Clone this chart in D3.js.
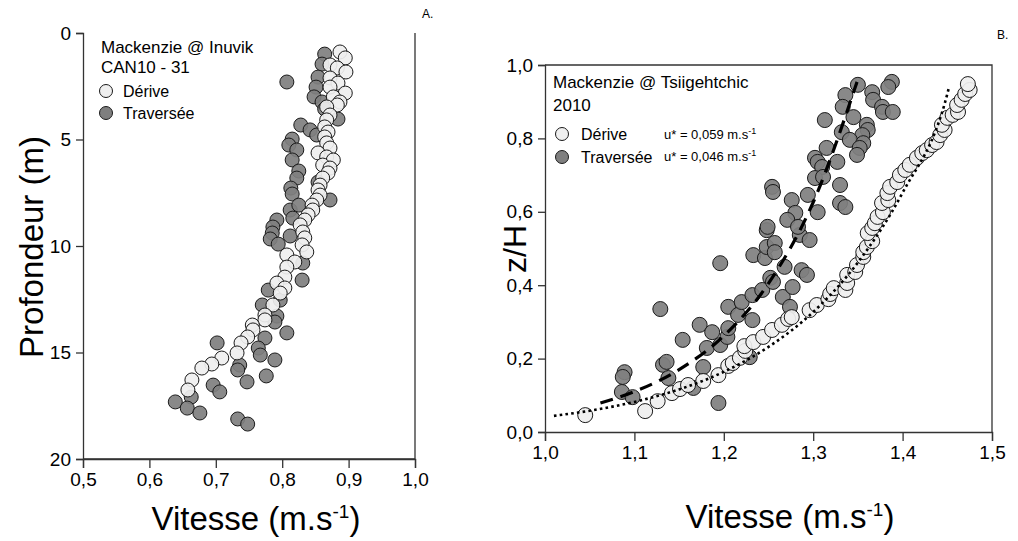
<!DOCTYPE html>
<html>
<head>
<meta charset="utf-8">
<script src="https://cdn.jsdelivr.net/npm/d3@7"></script>
<style>
  body { margin: 0; background: #fff; }
  text { font-family: "Liberation Sans", Arial, sans-serif; fill: #000; }
</style>
</head>
<body>
<svg id="chart" width="1018" height="541"></svg>
<script>
// Panel A : Mackenzie @ Inuvik (vitesse, profondeur)
const inuvikDerive = [
  [0.887,0.89],[0.895,1.17],[0.872,1.50],[0.883,1.64],[0.896,1.83],[0.872,2.11],[0.884,2.35],
  [0.872,2.54],[0.895,2.82],[0.877,3.00],[0.887,3.24],[0.883,3.38],[0.867,3.47],[0.872,3.85],
  [0.867,4.08],[0.864,4.41],[0.869,4.65],[0.864,4.88],[0.867,5.16],[0.872,5.40],[0.854,5.63],
  [0.867,5.82],[0.877,5.96],[0.861,6.20],[0.872,6.34],[0.869,6.57],[0.861,6.81],[0.857,7.14],
  [0.854,7.37],[0.857,7.61],[0.852,7.84],[0.845,8.08],[0.846,8.31],[0.839,8.54],[0.834,8.78],
  [0.827,9.01],[0.831,9.34],[0.834,9.62],[0.830,9.95],[0.837,10.28],[0.807,10.42],[0.819,10.75],
  [0.807,10.99],[0.804,11.46],[0.792,11.74],[0.804,11.97],[0.797,12.21],[0.786,12.77],[0.774,13.24],
  [0.774,13.47],[0.755,13.71],[0.756,13.94],[0.748,14.27],[0.738,14.55],[0.732,15.02],[0.709,15.26],
  [0.694,15.54],[0.679,15.73],[0.664,16.29],[0.658,16.76]
];
const inuvikTraversee = [
  [0.864,0.99],[0.860,1.46],[0.854,2.07],[0.851,2.54],[0.848,3.00],[0.860,3.24],[0.864,3.57],
  [0.884,4.04],[0.807,2.30],[0.828,4.32],[0.842,4.55],[0.852,4.79],[0.815,4.98],[0.810,5.26],
  [0.822,5.49],[0.815,5.96],[0.825,6.48],[0.822,6.81],[0.813,7.28],[0.815,7.56],[0.854,7.00],
  [0.872,7.84],[0.812,8.31],[0.825,8.08],[0.816,8.69],[0.792,8.78],[0.786,9.11],[0.785,9.39],
  [0.782,9.67],[0.794,9.91],[0.812,9.53],[0.831,10.80],[0.830,11.60],[0.779,12.07],[0.797,12.54],
  [0.770,12.77],[0.792,13.29],[0.789,13.57],[0.807,14.08],[0.774,14.32],[0.702,14.55],[0.764,14.79],
  [0.767,15.12],[0.789,15.35],[0.736,15.59],[0.733,15.82],[0.776,16.10],[0.747,16.38],[0.696,16.53],
  [0.706,16.85],[0.663,17.09],[0.639,17.32],[0.657,17.61],[0.676,17.84],[0.733,18.12],[0.748,18.36]
];

// Panel B : Mackenzie @ Tsiigehtchic 2010 (vitesse, z/H)
const tsiiDerive = [
  [1.045,0.046],[1.112,0.057],[1.126,0.084],[1.142,0.106],[1.151,0.117],[1.160,0.128],[1.177,0.139],
  [1.194,0.155],[1.205,0.180],[1.210,0.188],[1.218,0.202],[1.224,0.221],[1.223,0.234],[1.233,0.245],
  [1.244,0.259],[1.254,0.278],[1.265,0.292],[1.272,0.308],[1.276,0.313],[1.296,0.332],[1.304,0.346],
  [1.317,0.362],[1.319,0.376],[1.323,0.392],[1.336,0.387],[1.338,0.406],[1.338,0.428],[1.347,0.436],
  [1.349,0.455],[1.356,0.477],[1.356,0.490],[1.360,0.504],[1.366,0.520],[1.361,0.542],[1.366,0.556],
  [1.369,0.569],[1.372,0.586],[1.378,0.599],[1.377,0.624],[1.384,0.632],[1.383,0.651],[1.386,0.668],
  [1.394,0.681],[1.397,0.700],[1.403,0.714],[1.408,0.728],[1.416,0.747],[1.422,0.760],[1.427,0.768],
  [1.433,0.782],[1.438,0.790],[1.442,0.809],[1.447,0.823],[1.444,0.837],[1.450,0.856],[1.456,0.864],
  [1.462,0.872],[1.461,0.891],[1.466,0.905],[1.470,0.921],[1.475,0.932],[1.473,0.948]
];
const tsiiTraversee = [
  [1.086,0.109],[1.089,0.163],[1.087,0.150],[1.098,0.095],[1.129,0.335],[1.132,0.183],[1.136,0.191],
  [1.138,0.147],[1.154,0.251],[1.166,0.120],[1.173,0.292],[1.177,0.177],[1.181,0.229],[1.187,0.272],
  [1.194,0.079],[1.196,0.237],[1.196,0.460],[1.204,0.259],[1.205,0.283],[1.205,0.341],[1.216,0.319],
  [1.220,0.354],[1.229,0.204],[1.232,0.305],[1.232,0.373],[1.233,0.482],[1.243,0.387],[1.246,0.474],
  [1.248,0.504],[1.248,0.550],[1.252,0.420],[1.255,0.409],[1.257,0.515],[1.257,0.490],[1.266,0.368],
  [1.268,0.450],[1.274,0.341],[1.277,0.395],[1.285,0.537],[1.287,0.441],[1.293,0.428],[1.296,0.523],
  [1.388,0.954],[1.384,0.940],[1.366,0.926],[1.367,0.905],[1.377,0.886],[1.378,0.872],[1.389,0.872],
  [1.350,0.946],[1.336,0.918],[1.333,0.886],[1.345,0.858],[1.313,0.850],[1.360,0.837],[1.361,0.823],
  [1.332,0.817],[1.355,0.809],[1.341,0.796],[1.356,0.787],[1.352,0.774],[1.349,0.755],[1.315,0.774],
  [1.302,0.747],[1.305,0.736],[1.310,0.722],[1.302,0.692],[1.311,0.695],[1.327,0.736],[1.330,0.673],
  [1.254,0.668],[1.255,0.654],[1.276,0.632],[1.294,0.646],[1.330,0.624],[1.336,0.613],[1.305,0.599],
  [1.280,0.597],[1.271,0.578],[1.283,0.559],[1.249,0.559]
];
// profils ajustés
const fitDerive = [
  [1.01,0.044],[1.05,0.058],[1.10,0.082],[1.15,0.116],[1.20,0.164],[1.25,0.232],
  [1.30,0.327],[1.35,0.462],[1.40,0.652],[1.45,0.921],[1.452,0.94]
];
const fitTraversee = [
  [1.062,0.079],[1.10,0.110],[1.15,0.170],[1.20,0.262],[1.25,0.405],[1.30,0.626],[1.349,0.954]
];

const ticksA_x = [0.5, 0.6, 0.7, 0.8, 0.9, 1.0];
const ticksA_y = [0, 5, 10, 15, 20];
const ticksB_x = [1.0, 1.1, 1.2, 1.3, 1.4, 1.5];
const ticksB_y = [0, 0.2, 0.4, 0.6, 0.8, 1.0];

const fr = d3.formatLocale({decimal: ",", thousands: " ", grouping: [3], currency: ["", ""]});
const f1 = fr.format(".1f");

const WHITE = "#efefef", GREY = "#7f7f7f";
const svg = d3.select("#chart");

function frame(g, x, y) {
  const [x0, x1] = x.range(), [y0, y1] = y.range();
  g.append("path")
    .attr("d", `M${x0},${y1}H${x1}V${y0}`)
    .attr("fill", "none").attr("stroke", "#333").attr("stroke-width", 1.3);
}

function styleAxis(ax) {
  ax.select(".domain").attr("stroke", "#333").attr("stroke-width", 1.3);
  ax.selectAll(".tick line").attr("stroke", "#333").attr("stroke-width", 1.3);
  ax.selectAll(".tick text").attr("font-size", 19).attr("font-family", "Liberation Sans, Arial, sans-serif").attr("fill", "#000");
}

function vitesseTitle(g, cx, y) {
  const t = g.append("text").attr("x", cx).attr("y", y).attr("text-anchor", "middle").attr("font-size", 33);
  t.append("tspan").text("Vitesse (m.s");
  t.append("tspan").attr("font-size", 19).attr("dy", -12).text("-1");
  t.append("tspan").attr("dy", 12).text(")");
}

function dots(g, data, x, y, fill, r) {
  g.append("g").selectAll("circle").data(data).join("circle")
    .attr("cx", d => x(d[0])).attr("cy", d => y(d[1])).attr("r", r)
    .attr("fill", fill).attr("fill-opacity", 0.92)
    .attr("stroke", "#1a1a1a").attr("stroke-width", 1);
}

// ---------- Panel A ----------
const xA = d3.scaleLinear().domain([0.5, 1.0]).range([83, 415]);
const yA = d3.scaleLinear().domain([0, 20]).range([33, 459]);
const gA = svg.append("g");

dots(gA, inuvikTraversee, xA, yA, GREY, 7);
dots(gA, inuvikDerive, xA, yA, WHITE, 7);

frame(gA, xA, yA);
const axA_x = gA.append("g").attr("transform", "translate(0,459)")
  .call(d3.axisBottom(xA).tickValues(ticksA_x).tickFormat(f1).tickSizeOuter(0).tickSize(9).tickPadding(5));
styleAxis(axA_x);
const axA_y = gA.append("g").attr("transform", "translate(83,0)")
  .call(d3.axisLeft(yA).tickValues(ticksA_y).tickFormat(d3.format("d")).tickSizeOuter(0).tickSize(7).tickPadding(5));
styleAxis(axA_y);

gA.append("text").attr("transform", "translate(43,247) rotate(-90)")
  .attr("text-anchor", "middle").attr("font-size", 33).text("Profondeur (m)");
vitesseTitle(gA, 256, 530);
gA.append("text").attr("x", 422).attr("y", 18).attr("font-size", 12).text("A.");

// legende A
gA.append("text").attr("x", 101).attr("y", 53).attr("font-size", 17).text("Mackenzie @ Inuvik");
gA.append("text").attr("x", 101).attr("y", 73).attr("font-size", 17).text("CAN10 - 31");
gA.append("circle").attr("cx", 106).attr("cy", 91).attr("r", 6.5).attr("fill", WHITE).attr("stroke", "#1a1a1a");
gA.append("text").attr("x", 123).attr("y", 97).attr("font-size", 16).text("Dérive");
gA.append("circle").attr("cx", 106).attr("cy", 113).attr("r", 6.5).attr("fill", GREY).attr("stroke", "#1a1a1a");
gA.append("text").attr("x", 123).attr("y", 119).attr("font-size", 16).text("Traversée");

// ---------- Panel B ----------
const xB = d3.scaleLinear().domain([1.0, 1.5]).range([545, 992]);
const yB = d3.scaleLinear().domain([0, 1]).range([432, 65]);
const gB = svg.append("g");

dots(gB, tsiiTraversee, xB, yB, GREY, 7.5);
dots(gB, tsiiDerive, xB, yB, WHITE, 7.5);

const line = d3.line().x(d => xB(d[0])).y(d => yB(d[1])).curve(d3.curveMonotoneX);
gB.append("path").attr("d", line(fitTraversee)).attr("fill", "none")
  .attr("stroke", "#000").attr("stroke-width", 3.2).attr("stroke-dasharray", "13,8");
gB.append("path").attr("d", line(fitDerive)).attr("fill", "none")
  .attr("stroke", "#000").attr("stroke-width", 2.6).attr("stroke-dasharray", "2.6,3.2");

frame(gB, xB, yB);
const axB_x = gB.append("g").attr("transform", "translate(0,432)")
  .call(d3.axisBottom(xB).tickValues(ticksB_x).tickFormat(f1).tickSizeOuter(0).tickSize(9).tickPadding(5));
styleAxis(axB_x);
const axB_y = gB.append("g").attr("transform", "translate(545,0)")
  .call(d3.axisLeft(yB).tickValues(ticksB_y).tickFormat(f1).tickSizeOuter(0).tickSize(7).tickPadding(5));
styleAxis(axB_y);

gB.append("text").attr("transform", "translate(526,249) rotate(-90)")
  .attr("text-anchor", "middle").attr("font-size", 32).text("z/H");
vitesseTitle(gB, 790, 528);
gB.append("text").attr("x", 997).attr("y", 39).attr("font-size", 12).text("B.");

// legende B
gB.append("text").attr("x", 553).attr("y", 88).attr("font-size", 17).text("Mackenzie @ Tsiigehtchic");
gB.append("text").attr("x", 553).attr("y", 111).attr("font-size", 17).text("2010");
gB.append("circle").attr("cx", 562).attr("cy", 134).attr("r", 6.5).attr("fill", WHITE).attr("stroke", "#1a1a1a");
gB.append("text").attr("x", 581).attr("y", 140).attr("font-size", 16).text("Dérive");
gB.append("circle").attr("cx", 562).attr("cy", 157).attr("r", 6.5).attr("fill", GREY).attr("stroke", "#1a1a1a");
gB.append("text").attr("x", 581).attr("y", 163).attr("font-size", 16).text("Traversée");

function ustar(y, val) {
  const t = gB.append("text").attr("x", 664).attr("y", y).attr("font-size", 13);
  t.append("tspan").text(`u* = ${val} m.s`);
  t.append("tspan").attr("font-size", 9).attr("dy", -5).text("-1");
}
ustar(139, "0,059");
ustar(161, "0,046");
</script>
</body>
</html>
